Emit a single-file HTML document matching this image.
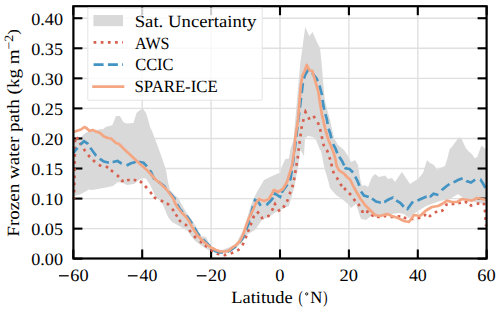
<!DOCTYPE html>
<html><head><meta charset="utf-8"><style>
html,body{margin:0;padding:0;background:#fff;}
svg{display:block;}
text{text-rendering:geometricPrecision;font-family:"Liberation Serif",serif;fill:#000;}
</style></head><body>
<svg width="500" height="310" viewBox="0 0 500 310">
<rect x="0" y="0" width="500" height="310" fill="#fff"/>
<g stroke="#e0e0e0" stroke-width="1.4"><line x1="142.20" y1="6.2" x2="142.20" y2="258.5"/><line x1="211.10" y1="6.2" x2="211.10" y2="258.5"/><line x1="280.00" y1="6.2" x2="280.00" y2="258.5"/><line x1="348.90" y1="6.2" x2="348.90" y2="258.5"/><line x1="417.80" y1="6.2" x2="417.80" y2="258.5"/><line x1="73.4" y1="228.64" x2="486.6" y2="228.64"/><line x1="73.4" y1="198.58" x2="486.6" y2="198.58"/><line x1="73.4" y1="168.52" x2="486.6" y2="168.52"/><line x1="73.4" y1="138.46" x2="486.6" y2="138.46"/><line x1="73.4" y1="108.40" x2="486.6" y2="108.40"/><line x1="73.4" y1="78.34" x2="486.6" y2="78.34"/><line x1="73.4" y1="48.28" x2="486.6" y2="48.28"/><line x1="73.4" y1="18.22" x2="486.6" y2="18.22"/></g>
<path d="M73.4,140.0 L75.0,139.5 L81.0,137.0 L86.0,132.5 L92.0,131.0 L101.0,129.0 L102.3,129.6 L106.3,126.8 L112.3,125.2 L114.0,121.0 L116.0,115.9 L120.0,115.9 L123.2,122.0 L126.5,123.5 L133.5,123.0 L136.5,113.0 L140.0,110.0 L143.0,108.8 L146.0,113.0 L148.0,119.0 L150.0,127.0 L152.0,131.0 L158.0,147.0 L162.0,158.0 L166.0,170.0 L168.0,182.0 L170.0,190.0 L175.5,196.0 L178.0,197.5 L182.0,205.0 L186.0,212.0 L192.0,220.0 L197.0,228.0 L201.0,236.0 L206.0,237.0 L210.0,245.0 L216.0,249.0 L222.0,250.0 L230.0,247.0 L236.0,244.0 L240.0,236.0 L244.0,229.0 L248.0,215.0 L251.0,205.0 L254.0,198.0 L257.0,192.0 L264.0,180.0 L270.0,177.0 L279.0,173.0 L280.0,174.0 L281.2,168.0 L285.4,159.0 L289.0,158.4 L290.2,150.0 L293.5,140.0 L296.6,105.0 L300.3,63.0 L302.4,48.0 L305.2,27.0 L309.4,36.0 L312.5,32.0 L316.4,41.0 L320.0,48.0 L321.3,60.0 L323.0,80.0 L324.8,100.0 L326.0,105.0 L330.0,120.0 L334.0,138.0 L338.0,145.0 L344.0,150.0 L348.0,156.0 L351.0,162.0 L355.0,160.0 L358.0,165.0 L360.0,178.0 L362.0,186.0 L365.0,185.0 L368.0,187.0 L372.0,177.0 L375.0,174.0 L379.0,177.0 L385.0,175.6 L388.0,179.0 L392.0,178.0 L395.0,182.0 L399.0,176.0 L402.0,172.0 L406.0,178.0 L410.0,184.0 L413.0,182.0 L418.0,179.0 L423.0,173.0 L427.0,160.0 L430.0,163.0 L434.0,165.0 L437.0,170.0 L440.0,168.0 L445.0,166.0 L447.5,158.0 L449.6,149.2 L452.0,146.8 L458.6,137.8 L461.0,137.8 L465.8,148.0 L468.8,151.6 L471.8,154.0 L474.8,158.2 L477.2,157.0 L481.4,145.6 L484.4,148.0 L486.6,150.0 L486.6,204.0 L484.0,204.0 L466.0,200.0 L458.0,194.0 L450.0,199.0 L440.0,201.0 L426.0,206.0 L415.0,213.0 L409.0,218.0 L404.0,214.0 L398.0,213.0 L376.0,217.0 L371.0,216.0 L366.0,220.0 L361.0,219.0 L356.0,204.0 L351.0,208.0 L348.0,204.0 L342.0,199.0 L336.0,195.0 L330.0,188.0 L328.0,180.0 L324.4,168.0 L320.8,150.0 L320.0,150.0 L316.0,140.0 L313.0,137.0 L308.0,136.0 L305.0,138.0 L304.0,156.0 L300.4,150.0 L298.0,168.0 L295.6,180.0 L294.4,187.0 L289.0,206.0 L284.0,208.0 L278.0,211.0 L270.0,216.0 L262.0,220.0 L255.0,230.0 L248.0,234.0 L242.0,242.0 L236.0,248.0 L228.0,253.0 L220.0,253.0 L210.0,251.0 L205.0,248.0 L199.0,244.0 L194.0,240.0 L190.0,234.5 L188.0,231.0 L172.0,222.0 L168.0,217.0 L163.0,205.0 L159.0,199.5 L155.5,197.0 L150.5,185.5 L146.0,178.5 L142.0,178.0 L139.0,180.0 L134.0,184.0 L127.0,185.0 L123.0,183.0 L118.0,182.0 L113.0,186.0 L106.0,187.5 L98.0,189.0 L92.0,190.0 L89.0,189.5 L81.0,194.0 L74.5,196.0 L73.4,196.0 Z" fill="#d9d9d9"/>
<g stroke="#000" stroke-width="2.1"><line x1="73.30" y1="258.5" x2="73.30" y2="249.5"/><line x1="73.30" y1="6.2" x2="73.30" y2="15.2"/><line x1="142.20" y1="258.5" x2="142.20" y2="249.5"/><line x1="142.20" y1="6.2" x2="142.20" y2="15.2"/><line x1="211.10" y1="258.5" x2="211.10" y2="249.5"/><line x1="211.10" y1="6.2" x2="211.10" y2="15.2"/><line x1="280.00" y1="258.5" x2="280.00" y2="249.5"/><line x1="280.00" y1="6.2" x2="280.00" y2="15.2"/><line x1="348.90" y1="258.5" x2="348.90" y2="249.5"/><line x1="348.90" y1="6.2" x2="348.90" y2="15.2"/><line x1="417.80" y1="258.5" x2="417.80" y2="249.5"/><line x1="417.80" y1="6.2" x2="417.80" y2="15.2"/><line x1="486.70" y1="258.5" x2="486.70" y2="249.5"/><line x1="486.70" y1="6.2" x2="486.70" y2="15.2"/><line x1="73.4" y1="258.70" x2="82.4" y2="258.70"/><line x1="486.6" y1="258.70" x2="477.6" y2="258.70"/><line x1="73.4" y1="228.64" x2="82.4" y2="228.64"/><line x1="486.6" y1="228.64" x2="477.6" y2="228.64"/><line x1="73.4" y1="198.58" x2="82.4" y2="198.58"/><line x1="486.6" y1="198.58" x2="477.6" y2="198.58"/><line x1="73.4" y1="168.52" x2="82.4" y2="168.52"/><line x1="486.6" y1="168.52" x2="477.6" y2="168.52"/><line x1="73.4" y1="138.46" x2="82.4" y2="138.46"/><line x1="486.6" y1="138.46" x2="477.6" y2="138.46"/><line x1="73.4" y1="108.40" x2="82.4" y2="108.40"/><line x1="486.6" y1="108.40" x2="477.6" y2="108.40"/><line x1="73.4" y1="78.34" x2="82.4" y2="78.34"/><line x1="486.6" y1="78.34" x2="477.6" y2="78.34"/><line x1="73.4" y1="48.28" x2="82.4" y2="48.28"/><line x1="486.6" y1="48.28" x2="477.6" y2="48.28"/><line x1="73.4" y1="18.22" x2="82.4" y2="18.22"/><line x1="486.6" y1="18.22" x2="477.6" y2="18.22"/></g>
<path d="M74.00,199.00 L74.04,196.88 M74.14,192.43 L74.19,189.73 M74.28,185.27 L74.34,182.57 M74.43,178.12 L74.49,175.42 M74.58,170.97 L74.60,170.00 L74.62,168.27 M74.69,163.81 L74.72,161.11 M74.78,156.66 L74.82,153.96 M74.88,149.50 L74.92,146.80 M74.98,142.35 L75.00,141.00 L75.36,139.70 M76.53,137.16 L77.88,139.50 M79.82,142.83 L80.50,144.00 L81.25,145.12 M83.75,148.88 L84.50,150.00 L85.31,151.08 M88.19,154.92 L89.00,156.00 L89.95,156.95 M93.05,160.05 L94.00,161.00 L95.08,161.81 M98.92,164.69 L100.00,165.50 L101.32,165.78 M105.68,166.72 L107.00,167.00 L108.05,167.84 M110.95,170.16 L112.00,171.00 L113.04,171.86 M116.96,175.14 L118.00,176.00 L118.89,177.01 M121.51,179.99 L122.40,181.00 L123.73,180.78 M127.07,180.22 L128.40,180.00 L129.75,180.00 M133.65,180.00 L135.00,180.00 L136.28,180.43 M139.72,181.57 L141.00,182.00 L141.95,182.95 M145.05,186.05 L146.00,187.00 L146.86,188.04 M150.14,191.96 L151.00,193.00 L151.84,194.05 M154.16,196.95 L155.00,198.00 L156.24,198.53 M160.76,200.47 L162.00,201.00 L163.21,201.60 M166.79,203.40 L168.00,204.00 L168.86,205.04 M172.14,208.96 L173.00,210.00 L173.72,211.14 M175.78,214.36 L177.22,216.64 M179.28,219.86 L180.00,221.00 L181.12,221.75 M184.88,224.25 L186.00,225.00 L186.75,226.12 M189.25,229.88 L190.00,231.00 L190.86,232.04 M194.14,235.96 L195.00,237.00 L196.04,237.86 M199.96,241.14 L201.00,242.00 L202.05,242.84 M204.95,245.16 L206.00,246.00 L207.07,246.82 M210.93,249.78 L212.00,250.60 L213.17,251.27 M216.83,253.33 L218.00,254.00 L219.34,254.19 M223.66,254.81 L225.00,255.00 L226.30,254.63 M230.70,253.37 L232.00,253.00 L233.22,252.43 M237.18,250.57 L238.40,250.00 L239.22,248.93 M242.18,245.07 L243.00,244.00 L243.53,242.76 M245.47,238.24 L246.00,237.00 L246.47,235.74 M247.93,231.86 L248.40,230.60 L248.89,229.34 M250.51,225.26 L251.00,224.00 L251.45,222.73 M253.05,218.27 L253.50,217.00 L254.45,216.05 M257.05,213.45 L258.00,212.50 L258.79,213.59 M261.21,216.91 L262.00,218.00 L263.29,217.60 M267.21,216.40 L268.50,216.00 L269.21,214.85 M271.79,210.65 L272.50,209.50 L273.06,208.27 M274.44,205.23 L275.00,204.00 L275.71,205.15 M278.29,209.35 L279.00,210.50 L280.05,209.66 M282.95,207.34 L284.00,206.50 L284.68,205.33 M286.82,201.67 L287.50,200.50 L287.93,199.22 M289.57,194.28 L290.00,193.00 L290.47,191.73 M292.13,187.27 L292.60,186.00 L292.89,184.68 M293.91,180.12 L294.20,178.80 L294.42,177.47 M295.18,172.93 L295.40,171.60 L295.62,170.27 M296.38,165.73 L296.60,164.40 L296.82,163.07 M297.58,158.53 L297.80,157.20 L297.94,155.86 M298.46,150.94 L298.60,149.60 L298.79,148.26 M299.41,143.74 L299.60,142.40 L299.78,141.06 M300.42,136.34 L300.60,135.00 L300.78,133.66 M301.42,128.94 L301.60,127.60 L301.91,126.29 M302.99,121.81 L303.30,120.50 L303.64,119.19 M305.16,113.31 L305.50,112.00 L306.14,113.19 M308.36,117.31 L309.00,118.50 L310.30,118.13 M312.90,117.37 L314.20,117.00 L314.92,118.14 M317.58,122.36 L318.30,123.50 L318.69,124.79 M320.01,129.11 L320.40,130.40 L320.69,131.72 M321.71,136.28 L322.00,137.60 L322.29,138.92 M323.31,143.68 L323.60,145.00 L324.31,146.15 M326.69,150.05 L327.40,151.20 L327.83,152.48 M329.37,157.12 L329.80,158.40 L330.16,159.70 M331.24,163.70 L331.60,165.00 L331.93,166.31 M333.07,170.89 L333.40,172.20 L334.12,173.34 M336.68,177.46 L337.40,178.60 L338.06,179.78 M340.34,183.82 L341.00,185.00 L341.95,185.95 M344.05,188.05 L345.00,189.00 L345.95,189.95 M349.05,193.05 L350.00,194.00 L350.80,195.09 M353.60,198.91 L354.40,200.00 L355.31,200.99 M358.09,204.01 L359.00,205.00 L359.62,206.20 M361.78,210.40 L362.40,211.60 L363.75,211.60 M366.05,211.60 L367.40,211.60 L368.45,212.44 M371.35,214.76 L372.40,215.60 L373.71,215.91 M377.09,216.69 L378.40,217.00 L379.73,216.80 M383.67,216.20 L385.00,216.00 L386.34,216.19 M390.66,216.81 L392.00,217.00 L393.35,216.88 M397.65,216.52 L399.00,216.40 L400.30,216.75 M403.70,217.65 L405.00,218.00 L406.34,218.19 M410.66,218.81 L412.00,219.00 L413.34,218.81 M417.66,218.19 L419.00,218.00 L420.21,217.40 M423.79,215.60 L425.00,215.00 L426.32,215.26 M428.68,215.74 L430.00,216.00 L431.12,215.25 M434.88,212.75 L436.00,212.00 L437.32,211.71 M441.08,210.89 L442.40,210.60 L443.15,209.48 M445.65,205.72 L446.40,204.60 L447.74,204.48 M451.66,204.12 L453.00,204.00 L454.33,203.80 M458.27,203.20 L459.60,203.00 L460.93,202.79 M464.67,202.21 L466.00,202.00 L467.11,202.77 M469.89,204.73 L471.00,205.50 L472.30,205.13 M476.70,203.87 L478.00,203.50 L479.35,203.61 M482.65,203.89 L484.00,204.00 L484.19,205.34 M484.81,209.66 L485.00,211.00 L485.09,212.35 M485.41,217.15 L485.59,219.85 M485.91,224.65 L486.00,226.00" fill="none" stroke="#d6604d" stroke-width="2.7"/>
<path d="M73.40,153.00 L77.00,148.50 L77.53,147.88 M80.38,144.64 L84.00,141.20 L87.50,143.50 L87.95,144.17 M90.32,147.72 L90.50,148.00 L93.20,151.80 L96.00,155.50 L96.27,155.73 M99.83,158.85 L100.00,159.00 L104.00,161.60 L108.00,162.50 L108.89,162.41 M112.62,162.04 L113.00,162.00 L117.50,161.00 L121.50,163.50 L121.76,163.60 M126.55,165.47 L131.00,163.20 L135.50,162.00 L135.84,162.00 M138.60,162.00 L140.00,162.00 L143.50,162.80 L146.95,166.41 M149.80,170.20 L151.00,172.00 L154.00,178.50 L154.54,178.90 M158.35,181.76 L160.00,183.00 L164.00,186.00 L165.80,188.31 M168.81,191.99 L171.00,194.50 L174.50,198.50 L175.06,199.72 M177.09,204.03 L179.50,208.50 L182.67,212.25 M185.98,215.68 L187.30,217.00 L190.30,221.00 L191.94,223.65 M194.40,227.73 L197.00,232.50 L199.85,236.06 M203.06,239.56 L206.00,242.50 L210.34,246.40 M213.74,249.74 L215.00,251.00 L220.00,252.50 L222.98,252.50 M227.55,251.48 L230.00,250.50 L235.00,247.00 L235.88,246.12 M239.21,242.72 L242.50,238.50 L244.33,234.24 M246.12,229.83 L248.30,224.00 L249.30,220.37 M250.56,215.77 L252.50,208.00 L253.09,206.11 M254.51,201.57 L255.00,200.00 L258.00,201.50 L260.77,205.66 M266.46,205.01 L266.50,205.00 L270.00,201.50 L273.00,198.00 L273.16,197.65 M274.24,195.21 L275.00,193.50 L280.00,197.00 L280.75,195.13 M281.74,192.64 L282.00,192.00 L284.50,188.50 L287.00,185.00 L287.35,184.40 M289.72,180.34 L290.50,179.00 L291.78,170.66 M292.50,166.01 L292.50,166.00 L293.80,156.10 M294.41,151.44 L294.60,150.00 L295.62,141.52 M296.19,136.85 L297.43,126.94 M298.02,122.27 L298.30,120.00 L299.27,112.36 M299.86,107.69 L300.20,105.00 L301.09,97.78 M301.66,93.11 L301.80,92.00 L302.86,83.19 M303.96,78.63 L305.00,75.00 L308.00,70.00 L308.32,70.21 M312.16,72.91 L316.80,79.00 L317.64,81.17 M319.33,85.56 L320.00,87.30 L322.00,95.00 L322.02,95.17 M322.59,99.84 L323.20,104.80 L324.27,109.68 M325.36,114.22 L326.80,119.00 L327.68,123.92 M328.59,128.77 L330.20,133.50 L331.38,138.35 M333.11,144.11 L335.50,148.50 L337.29,153.16 M339.23,156.84 L342.00,161.00 L344.18,165.49 M345.10,167.38 L345.50,168.20 L349.50,169.00 L353.03,172.53 M355.27,176.53 L357.50,181.00 L359.36,185.64 M361.00,191.50 L364.00,195.50 L368.00,196.80 L368.73,197.11 M372.00,198.50 L376.00,201.50 L380.00,202.50 L380.87,202.40 M384.22,202.03 L384.50,202.00 L388.50,199.50 L393.00,197.50 L393.05,197.55 M396.27,200.37 L397.00,201.00 L400.50,203.00 L403.79,206.76 M406.90,208.66 L407.50,209.00 L410.00,205.50 L413.00,201.50 M417.43,200.52 L417.50,200.50 L422.00,198.50 L426.50,196.50 L426.57,196.50 M429.54,196.50 L430.50,196.50 L433.50,193.80 L438.36,194.97 M441.78,190.32 L442.00,190.00 L445.50,187.00 L449.50,184.00 M453.63,182.43 L458.00,180.00 L462.64,178.14 M466.31,180.84 L466.50,181.00 L471.00,182.50 L475.16,179.73 M480.22,179.50 L480.50,179.50 L483.00,183.50 L485.42,187.87" fill="none" stroke="#4393c3" stroke-width="2.7"/>
<path d="M73.4,132.0 L78.0,130.5 L81.0,129.5 L84.5,127.0 L87.0,128.5 L89.5,131.0 L92.5,130.0 L96.0,131.5 L100.0,133.0 L104.0,136.5 L108.0,138.0 L111.0,138.5 L116.0,143.0 L119.0,144.0 L125.0,150.0 L132.0,156.5 L140.0,164.0 L148.0,171.0 L156.0,180.0 L160.0,183.0 L166.0,189.0 L170.0,194.0 L173.0,198.0 L175.0,203.0 L178.0,208.0 L182.0,213.0 L186.0,217.0 L189.0,221.0 L192.0,227.0 L198.0,236.0 L204.0,242.0 L210.0,247.0 L216.0,250.0 L220.0,251.5 L225.0,251.5 L229.0,250.5 L232.0,247.8 L236.0,245.0 L240.0,241.0 L243.0,235.0 L246.0,226.0 L249.0,218.0 L253.0,210.0 L256.0,203.0 L259.0,199.0 L264.0,201.0 L269.0,199.0 L274.0,190.0 L278.0,192.0 L283.0,189.0 L287.0,182.0 L290.0,172.0 L292.0,165.6 L294.4,150.0 L295.0,140.0 L298.0,120.0 L300.6,87.3 L302.3,76.0 L304.7,71.0 L306.8,65.0 L309.5,70.3 L312.3,71.0 L315.2,80.8 L318.4,92.0 L319.5,100.0 L322.0,115.0 L325.5,130.0 L328.4,140.0 L331.4,147.2 L333.8,153.2 L335.6,160.4 L336.8,166.4 L339.2,170.6 L344.0,173.6 L347.0,177.0 L350.0,179.5 L354.0,187.5 L360.0,198.0 L365.0,205.0 L370.0,210.0 L375.0,215.0 L380.0,216.0 L387.0,214.0 L392.0,216.0 L398.0,218.0 L404.0,221.0 L409.0,222.0 L414.0,215.0 L420.0,216.0 L426.0,210.5 L432.0,207.0 L438.0,206.0 L442.0,204.0 L447.0,200.6 L452.0,202.0 L457.0,202.0 L462.0,199.0 L468.0,200.0 L472.0,200.6 L477.0,198.0 L482.0,199.0 L486.6,200.0" fill="none" stroke="#f4a582" stroke-width="2.7" stroke-linejoin="round"/>
<rect x="73.4" y="6.2" width="413.20" height="252.30" fill="none" stroke="#000" stroke-width="2.2"/>
<rect x="87.8" y="8" width="174.4" height="92.2" rx="0.8" fill="#fff" fill-opacity="0.8" stroke="#e4e4e4" stroke-width="1"/>
<rect x="93.4" y="15" width="29.6" height="11.2" fill="#d9d9d9"/>
<line x1="93.6" y1="42.4" x2="123" y2="42.4" stroke="#d6604d" stroke-width="2.7" stroke-dasharray="2.70 4.46"/>
<line x1="93.6" y1="64.6" x2="123" y2="64.6" stroke="#4393c3" stroke-width="2.7" stroke-dasharray="9.99 4.32"/>
<line x1="93.6" y1="86.6" x2="123" y2="86.6" stroke="#f4a582" stroke-width="2.7" stroke-linecap="square"/>
<g font-size="17.2">
<text x="134.70" y="26.70" textLength="121.73" lengthAdjust="spacingAndGlyphs">Sat. Uncertainty</text>
<text x="135.10" y="48.60" textLength="34.41" lengthAdjust="spacingAndGlyphs">AWS</text>
<text x="135.18" y="70.40" textLength="38.38" lengthAdjust="spacingAndGlyphs">CCIC</text>
<text x="134.55" y="92.40" textLength="83.12" lengthAdjust="spacingAndGlyphs">SPARE-ICE</text>
</g>
<g font-size="17.4"><text x="31.26" y="265.30" textLength="31.78" lengthAdjust="spacingAndGlyphs">0.00</text><text x="31.26" y="235.24" textLength="31.78" lengthAdjust="spacingAndGlyphs">0.05</text><text x="31.26" y="205.18" textLength="31.78" lengthAdjust="spacingAndGlyphs">0.10</text><text x="31.26" y="175.12" textLength="31.78" lengthAdjust="spacingAndGlyphs">0.15</text><text x="31.26" y="145.06" textLength="31.78" lengthAdjust="spacingAndGlyphs">0.20</text><text x="31.26" y="115.00" textLength="31.78" lengthAdjust="spacingAndGlyphs">0.25</text><text x="31.26" y="84.94" textLength="31.78" lengthAdjust="spacingAndGlyphs">0.30</text><text x="31.26" y="54.88" textLength="31.78" lengthAdjust="spacingAndGlyphs">0.35</text><text x="31.26" y="24.82" textLength="31.78" lengthAdjust="spacingAndGlyphs">0.40</text><line x1="59.00" y1="275.8" x2="68.70" y2="275.8" stroke="#000" stroke-width="1.3"/><text x="70.26" y="281.00" textLength="18.28" lengthAdjust="spacingAndGlyphs">60</text><line x1="127.90" y1="275.8" x2="137.60" y2="275.8" stroke="#000" stroke-width="1.3"/><text x="139.60" y="281.00" textLength="17.83" lengthAdjust="spacingAndGlyphs">40</text><line x1="196.80" y1="275.8" x2="206.50" y2="275.8" stroke="#000" stroke-width="1.3"/><text x="208.05" y="281.00" textLength="18.30" lengthAdjust="spacingAndGlyphs">20</text><text x="275.35" y="281.00" textLength="9.20" lengthAdjust="spacingAndGlyphs">0</text><text x="339.54" y="281.00" textLength="18.41" lengthAdjust="spacingAndGlyphs">20</text><text x="408.90" y="281.00" textLength="17.93" lengthAdjust="spacingAndGlyphs">40</text><text x="477.36" y="281.00" textLength="18.39" lengthAdjust="spacingAndGlyphs">60</text></g>
<g font-size="17.2">
<text x="231.32" y="302.80" textLength="61.37" lengthAdjust="spacingAndGlyphs">Latitude</text>
<text x="298.40" y="302.80" textLength="4.15" lengthAdjust="spacingAndGlyphs">(</text>
<circle cx="306.7" cy="293.9" r="1.15" fill="none" stroke="#000" stroke-width="0.9"/>
<text x="310.27" y="302.80" textLength="12.06" lengthAdjust="spacingAndGlyphs">N</text>
<text x="323.14" y="302.80" textLength="4.28" lengthAdjust="spacingAndGlyphs">)</text>
</g>
<text transform="translate(18.5,236.7) rotate(-90)" font-size="17.2" textLength="207.6" lengthAdjust="spacingAndGlyphs">Frozen water path (kg m<tspan font-size="12.6" dy="-6">−2</tspan><tspan font-size="15" dy="5.1">)</tspan></text>
</svg>
</body></html>
